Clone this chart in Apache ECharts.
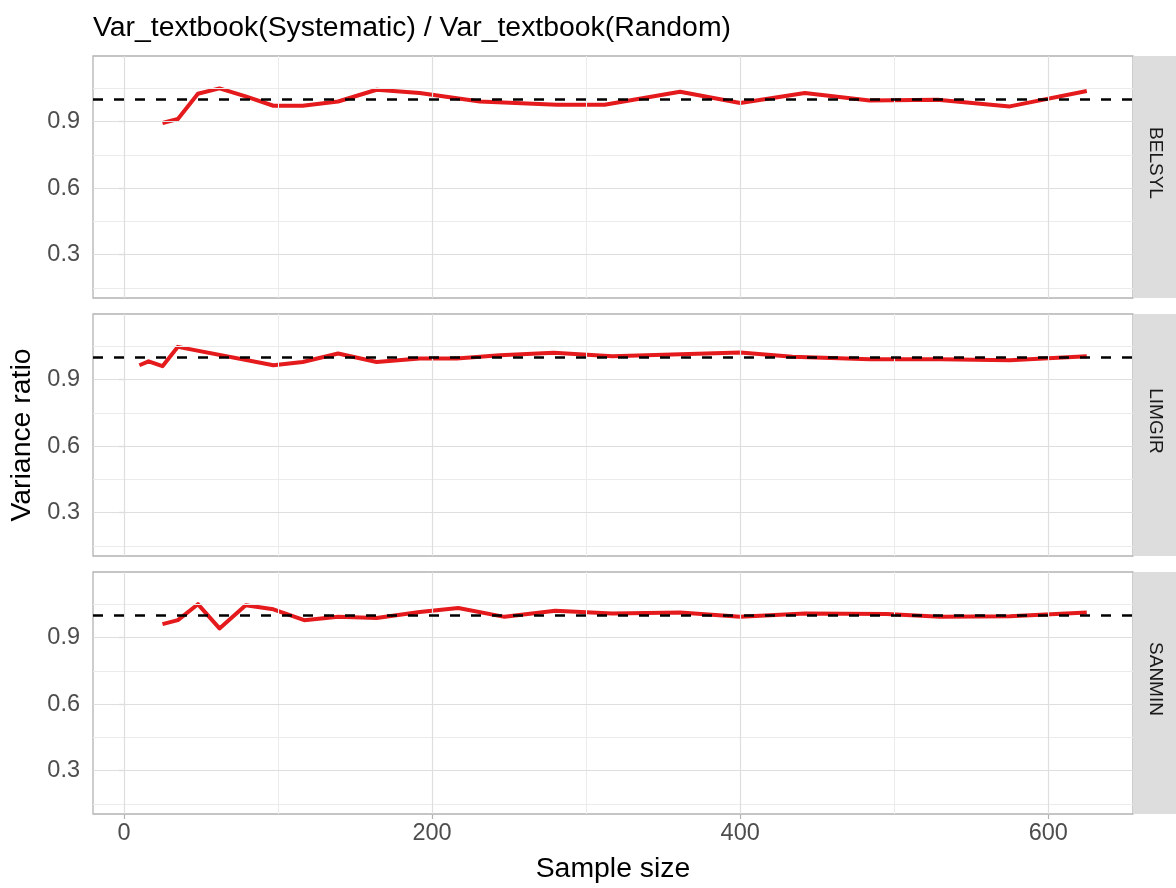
<!DOCTYPE html>
<html>
<head>
<meta charset="utf-8">
<script src="https://cdn.jsdelivr.net/npm/echarts@6/dist/echarts.min.js"></script>
<style>
html,body{margin:0;padding:0;background:#fff;}
#chart{width:1176px;height:888px;}
</style>
</head>
<body>
<div id="chart"></div>
<script>
// ---- data ----
var panelNames = ['BELSYL', 'LIMGIR', 'SANMIN'];
var belsylX = [25, 35, 48, 62, 79, 97, 116, 139, 164, 192, 231, 281, 312, 361, 400, 442, 484, 528, 575, 625];
var belsylY = [0.893, 0.911, 1.025, 1.049, 1.013, 0.971, 0.971, 0.990, 1.043, 1.028, 0.990, 0.975, 0.975, 1.034, 0.983, 1.028, 0.995, 0.998, 0.968, 1.037];
var limgirX = [10, 16, 25, 35, 97, 116, 139, 164, 192, 216, 244, 279, 317, 400, 434, 484, 530, 575, 625];
var limgirY = [0.964, 0.982, 0.960, 1.047, 0.964, 0.979, 1.017, 0.979, 0.995, 0.995, 1.009, 1.020, 1.005, 1.022, 1.002, 0.991, 0.991, 0.987, 1.005];
var sanminX = [25, 35, 48, 62, 79, 97, 117, 139, 164, 192, 217, 247, 280, 317, 361, 400, 442, 495, 530, 575, 625];
var sanminY = [0.960, 0.978, 1.050, 0.941, 1.045, 1.027, 0.978, 0.993, 0.988, 1.015, 1.033, 0.993, 1.020, 1.008, 1.013, 0.993, 1.008, 1.006, 0.993, 0.996, 1.013];
var referenceLine = 1;
var xMajorTicks = [0, 200, 400, 600];
var xMinorTicks = [100, 300, 500];
var yMajorTicks = [0.3, 0.6, 0.9];
var yMinorTicks = [0.15, 0.45, 0.75, 1.05];
var xRange = [-20.1, 655];
var yRange = [0.105, 1.195];
var titleText = 'Var_textbook(Systematic) / Var_textbook(Random)';
var xTitle = 'Sample size';
var yTitle = 'Variance ratio';

// ---- layout ----
var FONT = 'Liberation Sans, Arial, sans-serif';
var gridLeft = 93, gridWidth = 1040, gridHeight = 242;
var gridTops = [56, 314, 572];
var stripWidth = 43;

function pairs(xs, ys) { return xs.map(function (x, i) { return [x, ys[i]]; }); }
var panelData = [pairs(belsylX, belsylY), pairs(limgirX, limgirY), pairs(sanminX, sanminY)];

var grids = [], xAxes = [], yAxes = [], series = [], graphics = [];
gridTops.forEach(function (top, i) {
  var bottomPanel = (i === 2);
  grids.push({
    left: gridLeft, top: top, width: gridWidth, height: gridHeight,
    show: true, backgroundColor: '#fff', borderColor: '#b3b3b3', borderWidth: 1.3
  });
  xAxes.push({
    type: 'value', gridIndex: i, min: xRange[0], max: xRange[1],
    axisLine: { show: false },
    splitLine: { show: false },
    axisTick: { show: bottomPanel, customValues: xMajorTicks, length: 5, lineStyle: { color: '#b3b3b3', width: 1.2 } },
    axisLabel: { show: bottomPanel, customValues: xMajorTicks, color: '#4d4d4d', fontSize: 23.5, fontFamily: FONT, margin: 8 },
    name: bottomPanel ? xTitle : '', nameLocation: 'middle', nameGap: 41,
    nameTextStyle: { color: '#000', fontSize: 28.4, fontFamily: FONT }
  });
  yAxes.push({
    type: 'value', gridIndex: i, min: yRange[0], max: yRange[1],
    axisLine: { show: false },
    splitLine: { show: false },
    axisTick: { show: true, customValues: yMajorTicks, length: 5, lineStyle: { color: '#b3b3b3', width: 1.2 } },
    axisLabel: { customValues: yMajorTicks, color: '#4d4d4d', fontSize: 23.5, fontFamily: FONT, margin: 13,
      formatter: function (v) { return v.toFixed(1); } },
    name: i === 1 ? yTitle : '', nameLocation: 'middle', nameGap: 51, nameRotate: 90,
    nameTextStyle: { color: '#000', fontSize: 28.4, fontFamily: FONT }
  });
  var gl = [];
  yMinorTicks.forEach(function (v) { gl.push({ yAxis: v, lineStyle: { color: '#ebebeb', width: 1, type: 'solid' } }); });
  xMinorTicks.forEach(function (v) { gl.push({ xAxis: v, lineStyle: { color: '#ebebeb', width: 1, type: 'solid' } }); });
  yMajorTicks.forEach(function (v) { gl.push({ yAxis: v, lineStyle: { color: '#dedede', width: 1.2, type: 'solid' } }); });
  xMajorTicks.forEach(function (v) { gl.push({ xAxis: v, lineStyle: { color: '#dedede', width: 1.2, type: 'solid' } }); });
  series.push({
    type: 'line', xAxisIndex: i, yAxisIndex: i, data: [], z: 1, silent: true,
    markLine: { silent: true, symbol: 'none', label: { show: false }, animation: false, data: gl }
  });
  series.push({
    type: 'line', xAxisIndex: i, yAxisIndex: i, data: [], z: 2, silent: true,
    markLine: { silent: true, symbol: 'none', label: { show: false }, animation: false,
      data: [{ yAxis: referenceLine, lineStyle: { color: '#000', width: 2.6, type: [10, 11] } }] }
  });
  series.push({
    type: 'line', name: panelNames[i], xAxisIndex: i, yAxisIndex: i, data: panelData[i], z: 3,
    showSymbol: false, symbol: 'none', smooth: false,
    lineStyle: { color: '#e41a1c', width: 4, join: 'round' },
    emphasis: { disabled: true }
  });
  graphics.push({
    type: 'rect', shape: { x: gridLeft + gridWidth, y: top, width: stripWidth, height: gridHeight },
    style: { fill: '#dddddd' }, silent: true
  });
  graphics.push({
    type: 'text', x: gridLeft + gridWidth + stripWidth / 2 + 1, y: top + 107, rotation: -Math.PI / 2,
    style: { text: panelNames[i], fill: '#1a1a1a', font: '19px ' + FONT, textAlign: 'center', textVerticalAlign: 'middle' },
    silent: true
  });
});
graphics.push({
  type: 'text', x: gridLeft, y: 28,
  style: { text: titleText, fill: '#000', font: '28.4px ' + FONT, textAlign: 'left', textVerticalAlign: 'middle' },
  silent: true
});

var chart = echarts.init(document.getElementById('chart'), null, { renderer: 'canvas' });
chart.setOption({
  animation: false,
  backgroundColor: '#fff',
  grid: grids,
  xAxis: xAxes,
  yAxis: yAxes,
  series: series,
  graphic: graphics
});
</script>
</body>
</html>
